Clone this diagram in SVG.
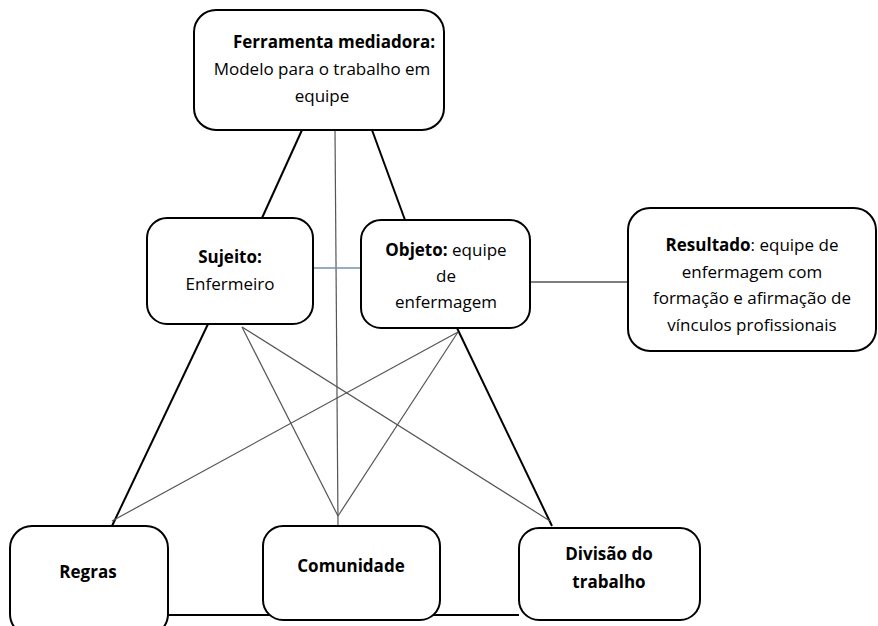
<svg xmlns="http://www.w3.org/2000/svg" width="878" height="626" viewBox="0 0 878 626">
<style>
.box{fill:#fff;stroke:#000;stroke-width:2}
.t{font-family:"Open Sans","Liberation Sans",sans-serif;font-size:17px;fill:#000;text-anchor:middle}
.b{font-weight:bold}
.thick{stroke:#000;stroke-width:2;fill:none}
.thin{stroke:#555;stroke-width:1.2;fill:none}
</style>
<rect width="878" height="626" fill="#fff"/>
<g id="connectors">
<line class="thick" x1="302" y1="130" x2="262" y2="218"/>
<line class="thick" x1="372" y1="130" x2="405" y2="220"/>
<line class="thin" x1="335" y1="130" x2="338" y2="525"/>
<line class="thick" x1="208" y1="324" x2="112" y2="526"/>
<line class="thick" x1="457" y1="328" x2="552" y2="526"/>
<line class="thin" x1="242" y1="327" x2="338" y2="516"/>
<line class="thin" x1="242" y1="327" x2="550" y2="521"/>
<line class="thin" x1="458" y1="332" x2="112" y2="521"/>
<line class="thin" x1="458" y1="332" x2="338" y2="516"/>
<line stroke="#6f95ab" stroke-width="1.4" x1="313" y1="268" x2="362" y2="268"/>
<line stroke="#000" stroke-width="1.2" x1="530" y1="282" x2="628" y2="282"/>
<line class="thick" x1="168" y1="615" x2="519" y2="615"/>
</g>
<g id="ferramenta">
<rect class="box" x="194" y="10" width="250" height="120" rx="22"/>
<text class="t b" x="334" y="48">Ferramenta mediadora:</text>
<text class="t" x="322" y="75">Modelo para o trabalho em</text>
<text class="t" x="322" y="102">equipe</text>
</g>
<g id="sujeito">
<rect class="box" x="147" y="218" width="166" height="106" rx="20"/>
<text class="t b" x="230" y="263">Sujeito:</text>
<text class="t" x="230" y="290">Enfermeiro</text>
</g>
<g id="objeto">
<rect class="box" x="361" y="220" width="169" height="108" rx="20"/>
<text class="t" x="446" y="256"><tspan class="b">Objeto:</tspan> equipe</text>
<text class="t" x="446" y="282">de</text>
<text class="t" x="446" y="308">enfermagem</text>
</g>
<g id="resultado">
<rect class="box" x="628" y="208" width="248" height="143" rx="22"/>
<text class="t" x="752" y="251"><tspan class="b">Resultado</tspan>: equipe de</text>
<text class="t" x="752" y="278">enfermagem com</text>
<text class="t" x="752" y="304">formação e afirmação de</text>
<text class="t" x="752" y="331">vínculos profissionais</text>
</g>
<g id="regras">
<rect class="box" x="10" y="526" width="158" height="110" rx="22"/>
<text class="t b" x="88" y="578">Regras</text>
</g>
<g id="comunidade">
<rect class="box" x="263" y="526" width="177" height="94" rx="20"/>
<text class="t b" x="351" y="572">Comunidade</text>
</g>
<g id="divisao">
<rect class="box" x="519" y="528" width="181" height="92" rx="20"/>
<text class="t b" x="609" y="560">Divisão do</text>
<text class="t b" x="609" y="588">trabalho</text>
</g>
</svg>
